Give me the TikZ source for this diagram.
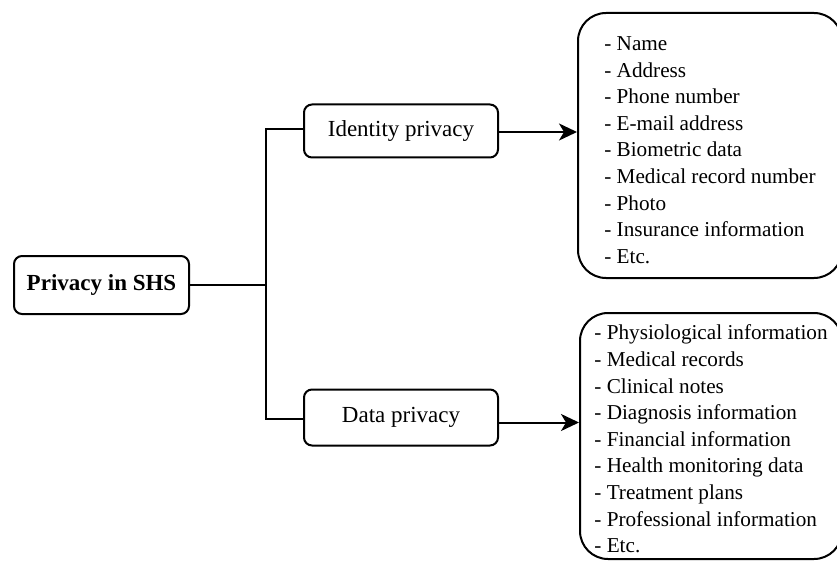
\documentclass[tikz,border=0pt]{standalone}
\usepackage{fontspec}
\setmainfont{Liberation Serif}
\usetikzlibrary{arrows.meta}
\begin{document}
\begin{tikzpicture}[x=1pt,y=-1pt,
  box/.style={draw=black,line width=2pt,rounded corners=8pt,fill=white,inner sep=0pt,font=\fontsize{23}{27}\selectfont},
  listbox/.style={draw=black,line width=2pt,rounded corners=28pt,inner sep=0pt,align=left,font=\fontsize{21.2}{26.6}\selectfont},
  conn/.style={line width=2pt},
  arr/.style={conn,-{Stealth[length=18pt,width=17pt,inset=5pt]}}]
\useasboundingbox (0,0) rectangle (837,561);
\clip (0,0) rectangle (837,561);
\node[box,minimum width=175pt,minimum height=58pt,font=\bfseries\fontsize{23}{27}\selectfont] (root) at (101.5,285) {Privacy in SHS};
\node[box,minimum width=194pt,minimum height=53pt] (idp) at (401,131) {Identity privacy};
\node[box,minimum width=194pt,minimum height=56pt] (dp) at (401,417.5) {Data privacy};
\node[listbox,minimum width=264pt,minimum height=265pt] (tl) at (710,145.5)
  {\rule{0pt}{23pt}- Name\\- Address\\- Phone number\\- E-mail address\\- Biometric data\\- Medical record number\\- Photo\\- Insurance information\\- Etc.};
\node[listbox,minimum width=262pt,minimum height=246pt] (bl) at (711,436)
  {\rule{0pt}{21pt}- Physiological information\\- Medical records\\- Clinical notes\\- Diagnosis information\\- Financial information\\- Health monitoring data\\- Treatment plans\\- Professional information\\- Etc.};
\coordinate (j) at (265.5,285);
\draw[conn] (root.east) -- (j);
\draw[conn] ([yshift=2pt]idp.west) -| (j) |- ([yshift=-1.5pt]dp.west);
\coordinate (a1) at ([yshift=-1pt]idp.east);
\coordinate (a2) at ([yshift=-5pt]dp.east);
\draw[arr] (a1) -- (a1 -| tl.west);
\draw[arr] (a2) -- (a2 -| bl.west);
\end{tikzpicture}
\end{document}
